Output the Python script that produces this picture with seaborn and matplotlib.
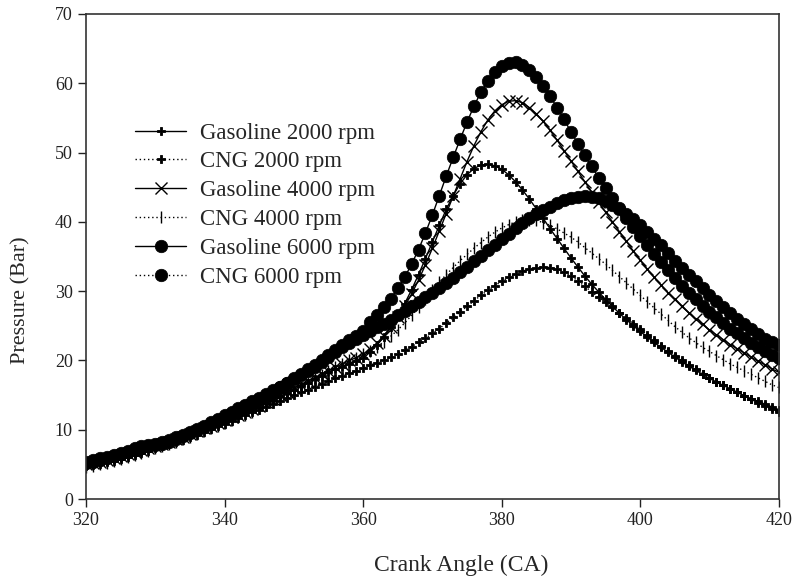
import matplotlib
matplotlib.use("Agg")
import matplotlib.pyplot as plt
import seaborn as sns

# crank angle, one point per degree
crank_angle = list(range(320, 421))

gasoline_2000 = [
    4.9, 5.1, 5.3, 5.5, 5.8, 6.1, 6.4, 6.7, 7.0, 7.3,
    7.6, 7.9, 8.2, 8.5, 8.9, 9.3, 9.7, 10.1, 10.5, 10.9,
    11.3, 11.7, 12.1, 12.5, 12.9, 13.3, 13.8, 14.3, 14.8, 15.3,
    15.8, 16.3, 16.8, 17.3, 17.8, 18.3, 18.7, 19.1, 19.5, 19.9,
    20.3, 21.2, 22.2, 23.4, 24.8, 26.4, 28.2, 30.2, 32.4, 34.7,
    37.1, 39.5, 41.8, 43.8, 45.5, 46.8, 47.7, 48.2, 48.3, 48.1,
    47.6, 46.8, 45.8, 44.6, 43.3, 41.9, 40.5, 39.0, 37.6, 36.2,
    34.8, 33.5, 32.2, 31.0, 29.9, 28.8, 27.8, 26.8, 25.9, 25.0,
    24.2, 23.4, 22.6, 21.9, 21.2, 20.5, 19.8, 19.2, 18.6, 18.0,
    17.4, 16.9, 16.4, 15.9, 15.4, 14.9, 14.5, 14.1, 13.7, 13.3, 12.9,
]

cng_2000 = [
    4.7, 4.9, 5.1, 5.3, 5.5, 5.8, 6.1, 6.4, 6.7, 7.0,
    7.3, 7.6, 7.9, 8.2, 8.5, 8.9, 9.3, 9.7, 10.1, 10.5,
    10.9, 11.3, 11.7, 12.1, 12.5, 12.9, 13.3, 13.7, 14.1, 14.6,
    15.0, 15.4, 15.8, 16.2, 16.6, 17.0, 17.4, 17.8, 18.2, 18.5,
    18.9, 19.3, 19.7, 20.1, 20.5, 21.0, 21.5, 22.0, 22.6, 23.2,
    23.9, 24.6, 25.4, 26.2, 27.0, 27.8, 28.6, 29.4, 30.1, 30.8,
    31.4, 32.0, 32.5, 32.9, 33.2, 33.4, 33.5, 33.4, 33.2, 32.8,
    32.2, 31.5, 30.7, 29.9, 29.1, 28.4, 27.7, 26.9, 26.1, 25.3,
    24.5, 23.7, 22.9, 22.1, 21.4, 20.7, 20.0, 19.3, 18.7, 18.1,
    17.5, 16.9, 16.4, 15.9, 15.4, 14.9, 14.4, 13.9, 13.5, 13.0, 12.6,
]

gasoline_4000 = [
    5.0, 5.2, 5.4, 5.6, 5.9, 6.2, 6.5, 6.8, 7.1, 7.4,
    7.7, 8.0, 8.3, 8.6, 9.0, 9.4, 9.8, 10.2, 10.6, 11.0,
    11.4, 11.8, 12.2, 12.6, 13.0, 13.5, 14.0, 14.5, 15.0, 15.5,
    16.0, 16.5, 17.0, 17.5, 18.0, 18.5, 19.0, 19.5, 20.0, 20.4,
    20.9, 21.6, 22.5, 23.6, 24.8, 26.2, 27.8, 29.6, 31.6, 33.8,
    36.2, 38.7, 41.2, 43.7, 46.2, 48.7, 51.0, 53.0, 54.7, 56.0,
    56.9, 57.4, 57.5, 57.2, 56.5, 55.6, 54.5, 53.2, 51.8, 50.3,
    48.8, 47.3, 45.8, 44.3, 42.8, 41.4, 40.0, 38.6, 37.2, 35.8,
    34.5, 33.2, 32.0, 30.9, 29.8, 28.8, 27.8, 26.9, 26.0, 25.2,
    24.4, 23.7, 23.0, 22.3, 21.7, 21.1, 20.5, 19.9, 19.4, 18.8, 18.3,
]

cng_4000 = [
    4.6, 4.8, 5.0, 5.2, 5.5, 5.8, 6.1, 6.4, 6.7, 7.0,
    7.3, 7.6, 7.9, 8.2, 8.6, 9.0, 9.4, 9.8, 10.2, 10.6,
    11.0, 11.4, 11.8, 12.2, 12.6, 13.1, 13.6, 14.1, 14.6, 15.1,
    15.6, 16.1, 16.7, 17.3, 17.9, 18.5, 19.0, 19.5, 20.0, 20.4,
    20.9, 21.4, 22.0, 22.7, 23.5, 24.4, 25.4, 26.5, 27.7, 28.9,
    30.1, 31.3, 32.4, 33.4, 34.4, 35.3, 36.2, 37.0, 37.8, 38.5,
    39.1, 39.6, 40.0, 40.2, 40.3, 40.2, 39.9, 39.5, 39.0, 38.4,
    37.8, 37.1, 36.3, 35.5, 34.7, 33.9, 33.0, 32.1, 31.2, 30.3,
    29.4, 28.5, 27.6, 26.7, 25.8, 24.9, 24.1, 23.3, 22.6, 21.9,
    21.3, 20.7, 20.1, 19.5, 19.0, 18.5, 18.0, 17.5, 17.0, 16.5, 16.1,
]

gasoline_6000 = [
    5.4, 5.6, 5.9, 6.1, 6.4, 6.7, 7.0, 7.3, 7.6, 7.8,
    8.0, 8.2, 8.5, 8.9, 9.3, 9.7, 10.1, 10.6, 11.1, 11.6,
    12.1, 12.6, 13.1, 13.6, 14.1, 14.6, 15.1, 15.7, 16.2, 16.8,
    17.4, 18.0, 18.7, 19.4, 20.1, 20.8, 21.5, 22.2, 22.9, 23.6,
    24.3, 25.5, 26.6, 27.7, 28.9, 30.4, 32.0, 33.9, 36.0, 38.4,
    41.0, 43.8, 46.6, 49.3, 51.9, 54.4, 56.7, 58.7, 60.3, 61.6,
    62.5, 62.9, 63.0, 62.6, 61.9, 60.9, 59.6, 58.1, 56.5, 54.8,
    53.0, 51.3, 49.6, 48.0, 46.4, 44.9, 43.4, 42.0, 40.6, 39.3,
    38.0, 36.7, 35.4, 34.2, 33.0, 31.9, 30.8, 29.8, 28.8, 27.9,
    27.0, 26.2, 25.4, 24.6, 23.9, 23.2, 22.5, 21.9, 21.3, 20.8, 20.3,
]

cng_6000 = [
    5.2, 5.4, 5.7, 5.9, 6.2, 6.5, 6.8, 7.1, 7.4, 7.6,
    7.8, 8.0, 8.3, 8.7, 9.1, 9.5, 9.9, 10.4, 10.9, 11.4,
    11.9, 12.4, 12.9, 13.4, 13.9, 14.4, 14.9, 15.5, 16.1, 16.7,
    17.3, 17.9, 18.5, 19.1, 19.8, 20.5, 21.2, 21.9, 22.5, 23.1,
    23.7, 24.3, 24.8, 25.3, 25.9, 26.5, 27.1, 27.8, 28.5, 29.1,
    29.8, 30.5, 31.2, 31.9, 32.7, 33.5, 34.3, 35.1, 35.9, 36.7,
    37.5, 38.3, 39.1, 39.8, 40.5, 41.1, 41.7, 42.2, 42.7, 43.1,
    43.4, 43.6, 43.7, 43.6, 43.4, 43.0, 42.5, 41.9, 41.2, 40.4,
    39.5, 38.6, 37.6, 36.6, 35.5, 34.4, 33.4, 32.4, 31.4, 30.4,
    29.5, 28.6, 27.7, 26.8, 26.0, 25.2, 24.5, 23.8, 23.1, 22.6, 22.2,
]

labels = ["Gasoline 2000 rpm", "CNG 2000 rpm", "Gasoline 4000 rpm",
          "CNG 4000 rpm", "Gasoline 6000 rpm", "CNG 6000 rpm"]
series = [gasoline_2000, cng_2000, gasoline_4000, cng_4000, gasoline_6000, cng_6000]

sns.set_style("ticks")
plt.rcParams['font.family'] = ['Liberation Serif', 'DejaVu Serif']

fig = plt.figure(figsize=(7.93, 5.83), dpi=100)
ax = fig.add_axes([0.1085, 0.144, 0.8735, 0.832])

solid = '-'
dotted = (0, (1, 2))
# linestyle, marker, markersize, edge width
styles = [
    (solid, 'P', 5.5, 0.6),
    (dotted, 'P', 5.5, 0.6),
    (solid, 'x', 8, 1.0),
    (dotted, '|', 8, 1.0),
    (solid, 'o', 9, 0.5),
    (dotted, 'o', 9, 0.5),
]

for vals, lab, (ls, m, ms, mew) in zip(series, labels, styles):
    sns.lineplot(x=crank_angle, y=vals, ax=ax, color='black', linestyle=ls,
                 linewidth=1.0, marker=m, markersize=ms, markeredgewidth=mew,
                 markeredgecolor='black', markerfacecolor='black',
                 label=lab, sort=False, errorbar=None)

ax.set_xlim(320, 420)
ax.set_ylim(0, 70)
ax.set_xticks([320, 340, 360, 380, 400, 420])
ax.set_yticks(range(0, 71, 10))
ax.tick_params(labelsize=13, length=6, width=1, colors='#222222')
for s in ax.spines.values():
    s.set_linewidth(1.2)
    s.set_color('#333333')

ax.set_xlabel("Crank Angle (CA)", fontsize=17)
ax.set_ylabel("Pressure (Bar)", fontsize=16)
ax.xaxis.set_label_coords(0.541, -0.115)
ax.yaxis.set_label_coords(-0.08, 0.41)

ax.legend(loc='center left', bbox_to_anchor=(0.058, 0.606), frameon=False,
          fontsize=16.5, handlelength=2.2, handletextpad=0.6, labelspacing=0.34,
          borderaxespad=0)

fig.savefig("out.png", dpi=100)
